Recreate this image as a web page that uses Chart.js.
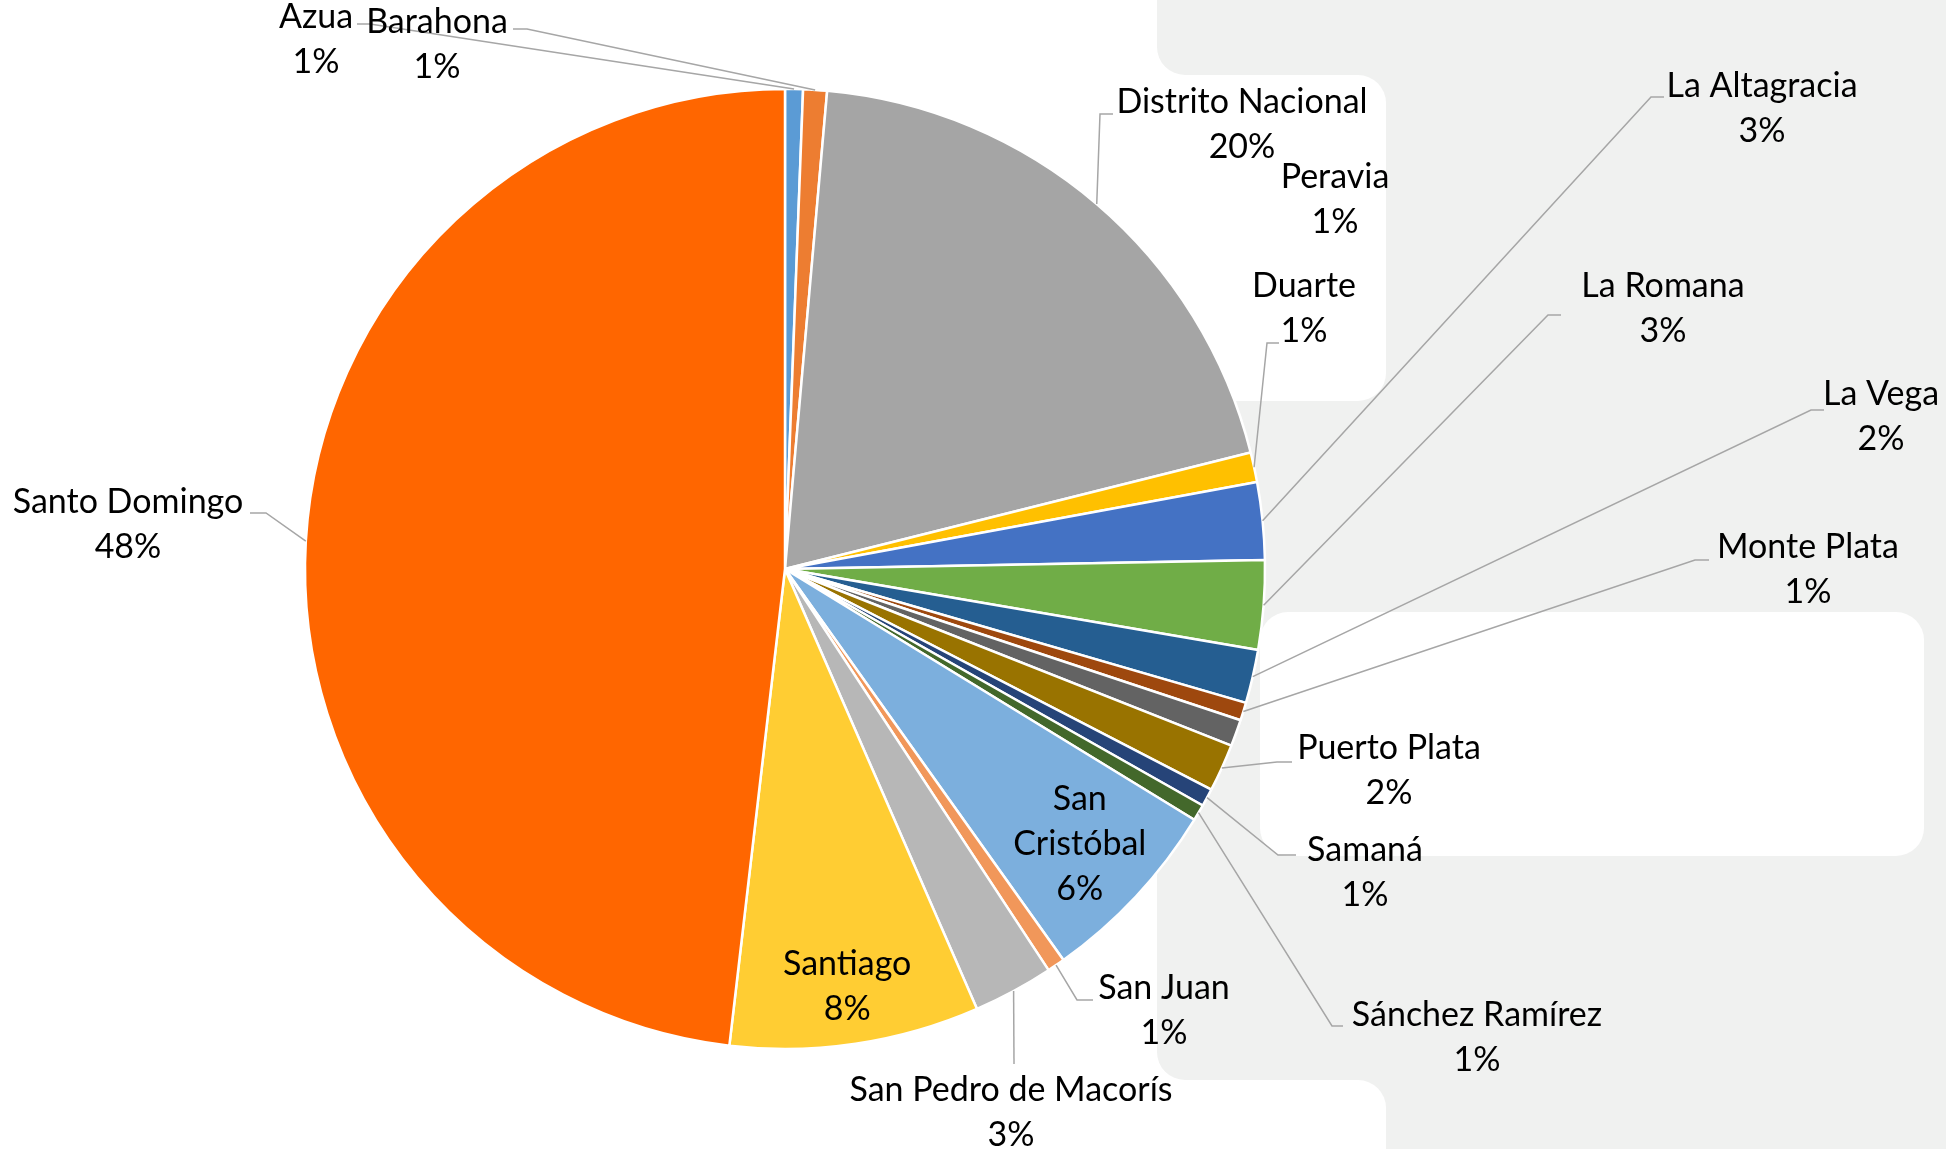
<!DOCTYPE html>
<html>
<head>
<meta charset="utf-8">
<script src="https://cdn.jsdelivr.net/npm/chart.js@4.4.1/dist/chart.umd.min.js"></script>
<style>
  html, body { margin: 0; padding: 0; background: #fff; }
  #wrap { width: 1946px; height: 1149px; position: relative; }
</style>
</head>
<body>
<div id="wrap"><canvas id="chartProvincias"></canvas></div>
<script>
// --- DATOS: provincias y su participación (%) ---
const provincias = [
    'Azua', 'Barahona', 'Distrito Nacional', 'Duarte', 'La Altagracia', 'La Romana',
    'La Vega', 'Monte Plata', 'Peravia', 'Puerto Plata', 'Samaná', 'Sánchez Ramírez',
    'San Cristóbal', 'San Juan', 'San Pedro de Macorís', 'Santiago', 'Santo Domingo'
];
const valores = [0.6, 0.8, 19.7, 1.0, 2.6, 3.0, 1.8, 0.6, 0.9, 1.6, 0.6, 0.55, 6.4, 0.6, 2.7, 8.4, 48.15];
const colores = [
    '#5B9BD5', '#ED7D31', '#A5A5A5', '#FFC000', '#4472C4', '#70AD47',
    '#255E91', '#9E480E', '#636363', '#997300', '#264478', '#43682B',
    '#7CAFDD', '#F1975A', '#B7B7B7', '#FFCD33', '#FF6600'
];

// --- posición de las etiquetas (centro del bloque de texto, codo y remate de la guía) ---
const posEtiquetas = [
    { x: 316, y: 40, codo: [370, 24], fin: [357, 24] },      // Azua
    { x: 437, y: 45, codo: [527, 29], fin: [513, 29] },      // Barahona
    { x: 1242, y: 125, codo: [1100, 114], fin: [1113, 114] }, // Distrito Nacional
    { x: 1304, y: 309, codo: [1267, 343], fin: [1279, 343] }, // Duarte
    { x: 1762, y: 109, codo: [1651, 97], fin: [1664, 97] },   // La Altagracia
    { x: 1663, y: 309, codo: [1548, 315], fin: [1561, 315] }, // La Romana
    { x: 1881, y: 417, codo: [1811, 410], fin: [1824, 410] }, // La Vega
    { x: 1808, y: 570, codo: [1695, 560], fin: [1709, 560] }, // Monte Plata
    { x: 1335, y: 200 },                                      // Peravia (sin guía)
    { x: 1389, y: 771, codo: [1277, 762], fin: [1292, 762] }, // Puerto Plata
    { x: 1365, y: 873, codo: [1278, 855], fin: [1296, 855] }, // Samaná
    { x: 1477, y: 1038, codo: [1332, 1026], fin: [1343, 1026] }, // Sánchez Ramírez
    { dentro: 0.84, lineas: ['San', 'Cristóbal'] },           // San Cristóbal
    { x: 1164, y: 1011, codo: [1077, 1000], fin: [1093, 1000] }, // San Juan
    { x: 1011, y: 1113, codo: [1014, 1064] },                 // San Pedro de Macorís
    { dentro: 0.88 },                                         // Santiago
    { x: 128, y: 525, codo: [266, 513], fin: [250, 513] }     // Santo Domingo
];

// paneles grises/blancos del fondo (captura original)
const panelesFondo = [
    { x: 1157, y: -40, w: 900, h: 115, r: 28, color: '#f0f1f0' },
    { x: 1340, y: -40, w: 700, h: 1250, r: 0, color: '#f0f1f0' },
    { x: 1157, y: 370, w: 900, h: 710, r: 28, color: '#f0f1f0' },
    { x: 1000, y: 75, w: 386, h: 326, r: 28, color: '#ffffff' },
    { x: 1260, y: 612, w: 664, h: 244, r: 28, color: '#ffffff' },
    { x: 1000, y: 1080, w: 386, h: 200, r: 28, color: '#ffffff' }
];

const fondoPlugin = {
    id: 'fondo',
    beforeDraw(chart) {
        const ctx = chart.ctx;
        ctx.save();
        ctx.fillStyle = '#fff';
        ctx.fillRect(0, 0, chart.width, chart.height);
        panelesFondo.forEach(p => {
            ctx.fillStyle = p.color;
            ctx.beginPath();
            ctx.roundRect(p.x, p.y, p.w, p.h, p.r);
            ctx.fill();
        });
        ctx.restore();
    }
};

const etiquetasPlugin = {
    id: 'etiquetas',
    afterDatasetsDraw(chart) {
        const ctx = chart.ctx;
        const meta = chart.getDatasetMeta(0);
        const total = valores.reduce((a, b) => a + b, 0);
        const alto = 45;
        ctx.save();
        ctx.font = '34px Lato';
        ctx.textAlign = 'center';
        ctx.textBaseline = 'middle';
        meta.data.forEach((arc, i) => {
            const cfg = posEtiquetas[i];
            const pct = Math.round(valores[i] / total * 100) + '%';
            const mid = (arc.startAngle + arc.endAngle) / 2;
            const lineas = (cfg.lineas || [provincias[i]]).concat(pct);
            let cx, cy;
            if (cfg.dentro) {
                cx = arc.x + Math.cos(mid) * arc.outerRadius * cfg.dentro;
                cy = arc.y + Math.sin(mid) * arc.outerRadius * cfg.dentro;
            } else {
                cx = cfg.x;
                cy = cfg.y;
                if (cfg.codo) {
                    const px = arc.x + Math.cos(mid) * arc.outerRadius;
                    const py = arc.y + Math.sin(mid) * arc.outerRadius;
                    ctx.strokeStyle = '#a6a6a6';
                    ctx.lineWidth = 1.5;
                    ctx.beginPath();
                    ctx.moveTo(px, py);
                    ctx.lineTo(cfg.codo[0], cfg.codo[1]);
                    if (cfg.fin) ctx.lineTo(cfg.fin[0], cfg.fin[1]);
                    ctx.stroke();
                }
            }
            ctx.fillStyle = '#000';
            lineas.forEach((t, j) => {
                ctx.fillText(t, cx, cy + (j - (lineas.length - 1) / 2) * alto);
            });
        });
        ctx.restore();
    }
};

document.addEventListener('DOMContentLoaded', () => {
    new Chart(document.getElementById('chartProvincias').getContext('2d'), {
        type: 'pie',
        data: {
            labels: provincias,
            datasets: [{
                data: valores,
                backgroundColor: colores,
                borderColor: '#ffffff',
                borderWidth: 2.5,
                radius: 480
            }]
        },
        options: {
            responsive: true,
            maintainAspectRatio: false,
            animation: false,
            layout: { padding: { left: 305, right: 681, top: 89, bottom: 100 } },
            plugins: {
                legend: { display: false },
                tooltip: { enabled: false },
                title: { display: false }
            }
        },
        plugins: [fondoPlugin, etiquetasPlugin]
    });
});
</script>
</body>
</html>
